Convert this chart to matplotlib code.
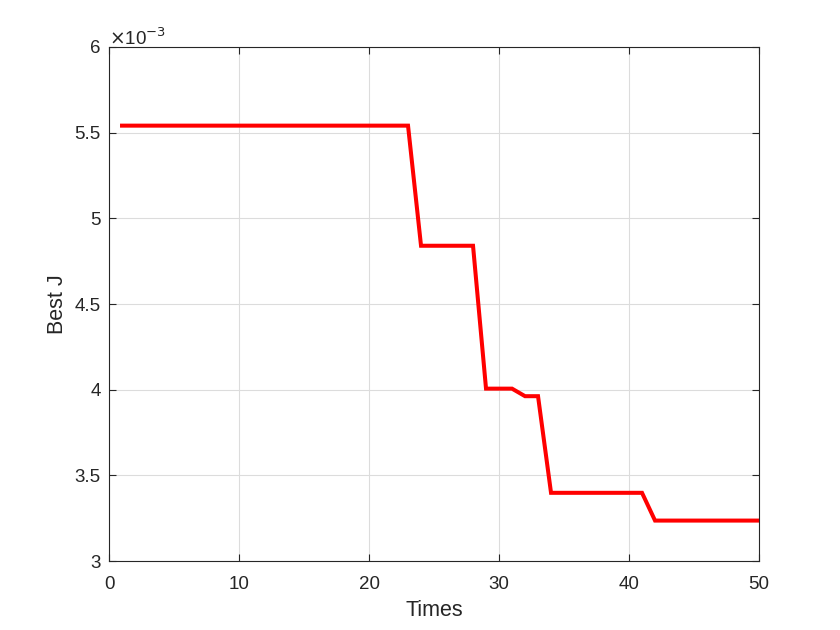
import matplotlib
matplotlib.use("Agg")
import matplotlib.pyplot as plt
import numpy as np

plt.rcParams['font.family'] = ['Liberation Sans', 'DejaVu Sans']

# Iteration index
times = list(range(1, 51))
# Best J values, in units of 1e-3 (as on the axis)
best_j = ([5.541] * 23 + [4.840] * 5 + [4.006] * 3 + [3.962] * 2
          + [3.398] * 8 + [3.236] * 9)

x_ticks = [0, 10, 20, 30, 40, 50]
y_ticks = [3, 3.5, 4, 4.5, 5, 5.5, 6]
y_tick_labels = ['3', '3.5', '4', '4.5', '5', '5.5', '6']

axc = '#262626'
fig = plt.figure(figsize=(8.4, 6.3), dpi=100)
ax = fig.add_axes([0.1298, 0.1095, 0.7738, 0.8159])
ax.plot(times, best_j, color='#ff0000', linewidth=2.9, solid_joinstyle='miter')
ax.set_xlim(0, 50)
ax.set_ylim(3, 6)
ax.set_xticks(x_ticks)
ax.set_yticks(y_ticks)
ax.set_yticklabels(y_tick_labels)
ax.grid(True, color='#dcdcdc', linewidth=0.8)
ax.set_axisbelow(True)
ax.tick_params(direction='in', top=True, right=True, length=5, width=0.8,
               colors=axc, labelsize=13.5)
ax.tick_params(axis='x', pad=11)
ax.tick_params(axis='y', pad=6)
for s in ax.spines.values():
    s.set_color(axc)
    s.set_linewidth(0.8)
ax.set_xlabel('Times', fontsize=15.5, color=axc, labelpad=5)
ax.set_ylabel('Best J', fontsize=15.5, color=axc, labelpad=5)
ax.text(0.0, 0.997, r'$\times$10$^{-3}$', transform=ax.transAxes,
        fontsize=13.5, color=axc, ha='left', va='bottom')

fig.savefig('out.png', dpi=100)
